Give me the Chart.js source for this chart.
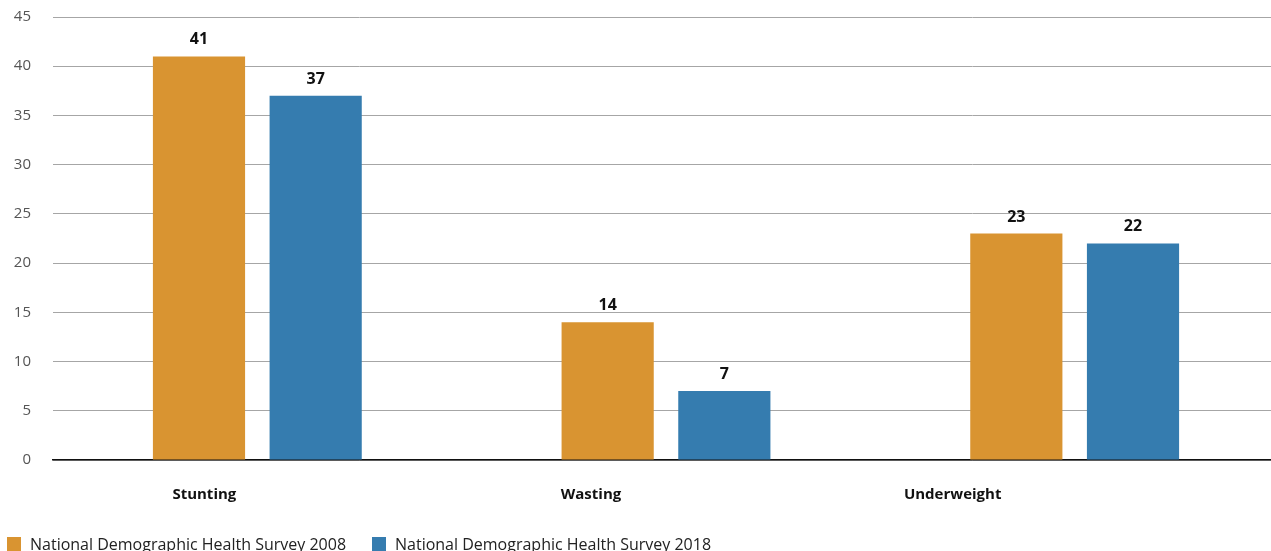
<!DOCTYPE html>
<html>
<head>
<meta charset="utf-8">
<script src="https://cdn.jsdelivr.net/npm/chart.js@4.4.1/dist/chart.umd.min.js"></script>
<style>
  html, body { margin: 0; padding: 0; background: #fff; overflow: hidden; }
  #wrap { position: relative; width: 1279px; height: 551px; }
</style>
</head>
<body>
<div id="wrap"><canvas id="c"></canvas></div>
<script>
const categories = ['Stunting', 'Wasting', 'Underweight'];
const series2008 = [41, 14, 23];
const series2018 = [37, 7, 22];
const seriesNames = ['National Demographic Health Survey 2008', 'National Demographic Health Survey 2018'];
const yTicks = [0, 5, 10, 15, 20, 25, 30, 35, 40, 45];

const FONT = "'Open Sans', 'Noto Sans', sans-serif";
const COLORS = ['#D99431', '#357CAF'];
const CAT_LABEL_SHIFT = [-53, -75, -122];

const overlay = {
  id: 'overlay',
  afterDatasetsDraw(chart) {
    const ctx = chart.ctx;
    ctx.save();
    // value labels
    ctx.font = 'bold 16px ' + FONT;
    ctx.fillStyle = '#111';
    ctx.textAlign = 'center';
    ctx.textBaseline = 'alphabetic';
    chart.data.datasets.forEach((ds, di) => {
      chart.getDatasetMeta(di).data.forEach((bar, i) => {
        ctx.fillText(String(ds.data[i]), bar.x, bar.y - 12);
      });
    });
    // category labels
    const xs = chart.scales.x;
    ctx.font = 'bold 15px ' + FONT;
    ctx.textBaseline = 'middle';
    chart.data.labels.forEach((lab, i) => {
      ctx.fillText(lab, xs.getPixelForValue(i) + CAT_LABEL_SHIFT[i], 495);
    });
    // legend
    ctx.font = '16px ' + FONT;
    ctx.textAlign = 'left';
    const starts = [7, 372];
    chart.data.datasets.forEach((ds, di) => {
      const x0 = starts[di];
      ctx.fillStyle = ds.backgroundColor;
      ctx.fillRect(x0, 537, 14, 14);
      ctx.fillStyle = '#222';
      ctx.fillText(ds.label, x0 + 23, 545);
    });
    ctx.restore();
  }
};

new Chart(document.getElementById('c'), {
  type: 'bar',
  data: {
    labels: categories,
    datasets: [
      { label: seriesNames[0], data: series2008, backgroundColor: COLORS[0] },
      { label: seriesNames[1], data: series2018, backgroundColor: COLORS[1] }
    ]
  },
  options: {
    responsive: true,
    maintainAspectRatio: false,
    animation: false,
    devicePixelRatio: 1,
    layout: { padding: { top: 17, left: 0, right: 0, bottom: 0 } },
    categoryPercentage: 0.571,
    barPercentage: 0.79,
    plugins: { legend: { display: false }, tooltip: { enabled: false } },
    scales: {
      x: {
        grid: { display: false, drawTicks: false },
        border: { display: true, color: '#111', width: 1.5 },
        ticks: { display: false },
        afterFit(s) { s.height = 91; s.paddingLeft = 0; s.paddingRight = 0; }
      },
      y: {
        min: 0, max: 45,
        afterBuildTicks(s) { s.ticks = yTicks.map(v => ({ value: v })); },
        grid: { color: '#a6a6a6', lineWidth: 1, drawTicks: false },
        border: { display: false },
        ticks: { padding: 22, color: '#555', font: { family: FONT, size: 15 } },
        afterFit(s) { s.width = 53; s.paddingTop = 0; s.paddingBottom = 0; }
      }
    }
  },
  plugins: [overlay]
});
</script>
</body>
</html>
